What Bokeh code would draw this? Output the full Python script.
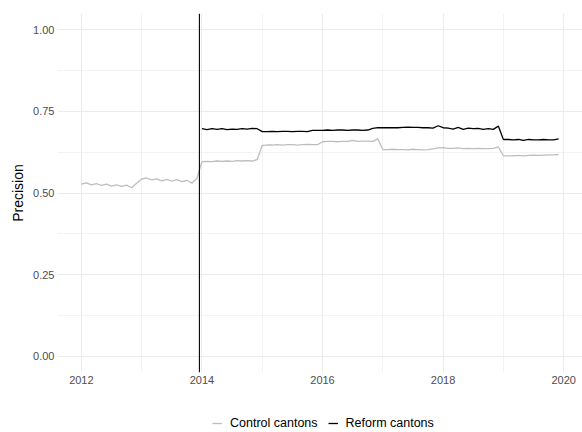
from bokeh.plotting import figure
from bokeh.layouts import column
from bokeh.models import Range1d, FixedTicker, NumeralTickFormatter, Span, Legend, LegendItem
from bokeh.embed import file_html
from bokeh.resources import INLINE

# Monthly precision, control cantons Jan 2012 - Dec 2019
control_start_year = 2012
control_values = [
    0.527, 0.531, 0.525, 0.529, 0.523, 0.527, 0.521, 0.525, 0.520, 0.524, 0.516, 0.530,
    0.543, 0.546, 0.540, 0.543, 0.537, 0.542, 0.536, 0.541, 0.535, 0.539, 0.530, 0.545,
    0.596, 0.597, 0.596, 0.598, 0.597, 0.598, 0.597, 0.599, 0.598, 0.599, 0.598, 0.602,
    0.646, 0.647, 0.647, 0.648, 0.647, 0.648, 0.648, 0.647, 0.648, 0.649, 0.648, 0.648,
    0.657, 0.658, 0.658, 0.657, 0.658, 0.658, 0.661, 0.658, 0.659, 0.659, 0.658, 0.666,
    0.633, 0.633, 0.634, 0.633, 0.633, 0.632, 0.634, 0.633, 0.632, 0.633, 0.635, 0.638,
    0.639, 0.637, 0.637, 0.638, 0.636, 0.637, 0.636, 0.637, 0.636, 0.636, 0.637, 0.641,
    0.614, 0.614, 0.614, 0.615, 0.614, 0.615, 0.616, 0.615, 0.616, 0.617, 0.617, 0.618,
]
# Monthly precision, reform cantons Jan 2014 - Dec 2019
reform_start_year = 2014
reform_values = [
    0.697, 0.694, 0.697, 0.695, 0.697, 0.694, 0.696, 0.695, 0.697, 0.696, 0.698, 0.697,
    0.688, 0.688, 0.689, 0.688, 0.689, 0.689, 0.688, 0.689, 0.689, 0.688, 0.692, 0.692,
    0.692, 0.693, 0.692, 0.693, 0.693, 0.692, 0.693, 0.693, 0.692, 0.693, 0.698, 0.700,
    0.700, 0.700, 0.700, 0.700, 0.701, 0.702, 0.701, 0.701, 0.700, 0.700, 0.699, 0.706,
    0.700, 0.699, 0.696, 0.701, 0.695, 0.699, 0.697, 0.698, 0.695, 0.697, 0.695, 0.705,
    0.664, 0.664, 0.663, 0.664, 0.661, 0.664, 0.663, 0.663, 0.664, 0.663, 0.663, 0.666,
]
# reform line: midway between Dec 2013 and Jan 2014
reform_line_year = 2013.958
series_labels = ["Control cantons", "Reform cantons"]
series_colors = ["#BEBEBE", "black"]
x_ticks = [2012, 2014, 2016, 2018, 2020]
y_ticks = [0.0, 0.25, 0.5, 0.75, 1.0]

control_x = [control_start_year + i / 12 for i in range(len(control_values))]
reform_x = [reform_start_year + i / 12 for i in range(len(reform_values))]

xmin, xmax = min(control_x), max(control_x)
xpad = (xmax - xmin) * 0.05

p = figure(width=582, height=400, output_backend="svg", toolbar_location=None,
           x_range=Range1d(xmin - xpad, xmax + xpad), y_range=Range1d(-0.05, 1.05),
           min_border_left=57, min_border_right=0, min_border_top=13, min_border_bottom=28)
p.outline_line_color = None
p.background_fill_color = "white"
p.border_fill_color = "white"

for ax in (p.xaxis[0], p.yaxis[0]):
    ax.axis_line_color = None
    ax.major_tick_line_color = None
    ax.minor_tick_line_color = None
    ax.major_tick_out = 0
    ax.major_tick_in = 0
    ax.minor_tick_out = 0
    ax.minor_tick_in = 0
    ax.major_label_text_color = "#4D4D4D"
    ax.major_label_text_font = "Liberation Sans"
    ax.major_label_text_font_size = "11px"

p.xaxis.ticker = FixedTicker(ticks=x_ticks, minor_ticks=[2013, 2015, 2017, 2019])
p.yaxis.ticker = FixedTicker(ticks=y_ticks, minor_ticks=[0.125, 0.375, 0.625, 0.875])
p.yaxis.formatter = NumeralTickFormatter(format="0.00")
p.xaxis.major_label_standoff = 3
p.yaxis.major_label_standoff = 3
p.yaxis.axis_label = "Precision"
p.yaxis.axis_label_text_font = "Liberation Sans"
p.yaxis.axis_label_text_font_style = "normal"
p.yaxis.axis_label_text_font_size = "14px"
p.yaxis.axis_label_text_color = "black"
p.yaxis.axis_label_standoff = 4

for g in (p.xgrid[0], p.ygrid[0]):
    g.grid_line_color = "#EBEBEB"
    g.grid_line_width = 1.1
    g.minor_grid_line_color = "#EBEBEB"
    g.minor_grid_line_width = 0.6

p.line(control_x, control_values, line_color=series_colors[0], line_width=1.3)
p.line(reform_x, reform_values, line_color=series_colors[1], line_width=1.3)

p.add_layout(Span(location=reform_line_year, dimension="height", line_color="black", line_width=1.1))

# legend strip below the plot
lg = figure(width=582, height=32, output_backend="svg", toolbar_location=None,
            x_axis_type=None, y_axis_type=None,
            x_range=Range1d(0, 1), y_range=Range1d(0, 1),
            min_border_left=0, min_border_right=0, min_border_top=0, min_border_bottom=0)
lg.outline_line_color = None
lg.xgrid.visible = False
lg.ygrid.visible = False
# proxy renderers (outside the visible range) used only for the legend keys
lr0 = lg.line([-2, -1], [-2, -1], line_color=series_colors[0], line_width=1.3)
lr1 = lg.line([-2, -1], [-2, -1], line_color=series_colors[1], line_width=1.3)
legend = Legend(items=[LegendItem(label=series_labels[0], renderers=[lr0]),
                       LegendItem(label=series_labels[1], renderers=[lr1])],
                orientation="horizontal", location=(155, 2),
                glyph_width=10, glyph_height=12, label_standoff=8, spacing=10,
                padding=0, margin=0, border_line_color=None, background_fill_alpha=0,
                label_text_font="Liberation Sans", label_text_font_size="12.5px",
                label_text_color="black", label_height=12)
lg.add_layout(legend, "center")

layout = column(p, lg, spacing=0)
open("out.html", "w").write(file_html(layout, INLINE))
